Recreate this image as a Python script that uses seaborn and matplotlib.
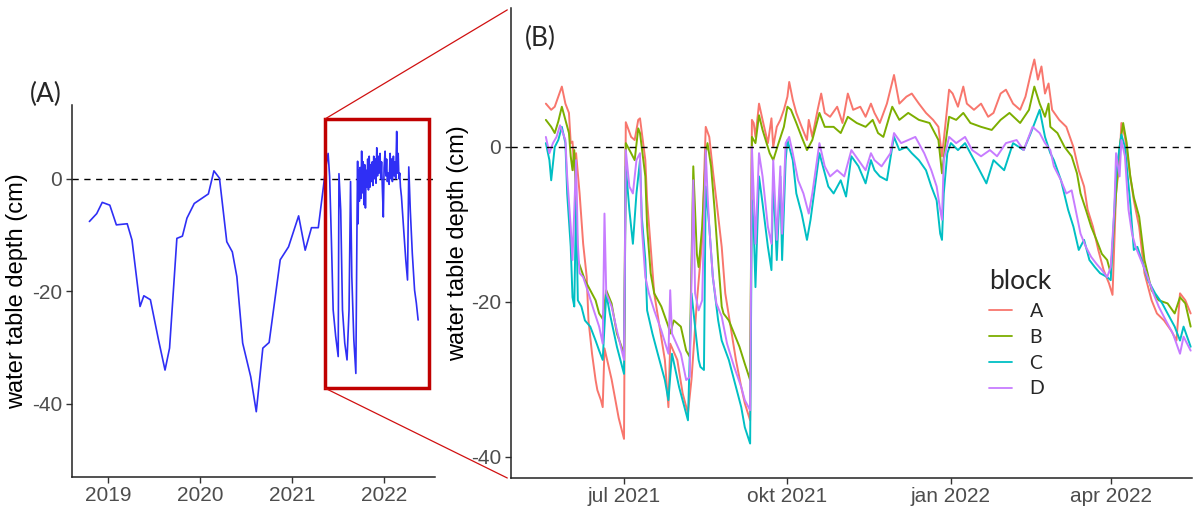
import numpy as np
import pandas as pd
import matplotlib
matplotlib.use("Agg")
import matplotlib.pyplot as plt
import matplotlib.dates as mdates
from matplotlib.patches import Rectangle, ConnectionPatch
import seaborn as sns

# ---------------- data: panel (A) long-term record ----------------
dates_long = ["2018-10-19", "2018-11-17", "2018-12-09", "2019-01-08", "2019-02-03", "2019-03-18",
              "2019-04-06", "2019-05-08", "2019-05-23", "2019-06-18", "2019-07-20", "2019-08-15",
              "2019-09-02", "2019-10-01", "2019-10-23", "2019-11-10", "2019-12-09", "2020-02-03",
              "2020-02-25", "2020-03-18", "2020-04-16", "2020-05-08", "2020-05-26", "2020-06-18",
              "2020-07-20", "2020-08-11", "2020-09-06", "2020-10-01", "2020-11-14", "2020-12-17",
              "2021-01-26", "2021-02-21", "2021-03-18", "2021-04-14", "2021-04-30", "2021-05-14",
              "2021-05-23", "2021-05-29", "2021-06-05", "2021-06-12", "2021-06-22", "2021-07-02",
              "2021-07-05", "2021-07-12", "2021-07-19", "2021-07-28", "2021-08-06", "2021-08-14",
              "2021-08-20", "2021-08-25", "2021-09-02", "2021-09-10", "2021-09-15", "2021-09-17",
              "2021-09-19", "2021-09-21", "2021-09-24", "2021-09-27", "2021-09-30", "2021-10-03",
              "2021-10-06", "2021-10-09", "2021-10-12", "2021-10-15", "2021-10-18", "2021-10-21",
              "2021-10-24", "2021-10-27", "2021-10-30", "2021-11-02", "2021-11-05", "2021-11-08",
              "2021-11-11", "2021-11-14", "2021-11-17", "2021-11-20", "2021-11-23", "2021-11-26",
              "2021-11-29", "2021-12-02", "2021-12-05", "2021-12-08", "2021-12-11", "2021-12-15",
              "2021-12-18", "2021-12-21", "2021-12-24", "2021-12-28", "2021-12-31", "2022-01-04",
              "2022-01-07", "2022-01-10", "2022-01-13", "2022-01-17", "2022-01-20", "2022-01-24",
              "2022-01-27", "2022-01-30", "2022-02-02", "2022-02-06", "2022-02-09", "2022-02-12",
              "2022-02-15", "2022-02-19", "2022-02-22", "2022-02-25", "2022-02-28", "2022-03-03",
              "2022-03-06", "2022-03-10", "2022-03-19", "2022-03-27", "2022-04-03", "2022-04-08",
              "2022-04-14", "2022-04-22", "2022-05-01", "2022-05-08", "2022-05-15"]
depth_long = [-7.6, -6.2, -4.2, -4.7, -8.2, -8.0,
              -10.9, -22.7, -20.8, -21.5, -28.6, -34.0,
              -30.1, -10.6, -10.2, -7.0, -4.4, -2.7,
              1.4, 0.1, -11.2, -13.0, -17.4, -29.2,
              -35.2, -41.4, -30.1, -29.1, -14.4, -12.1,
              -6.6, -12.7, -8.7, -8.7, -3.0, 2.1,
              4.5, 0.4, -10.9, -23.3, -28.0, -31.6,
              0.9, -5.6, -23.3, -29.2, -32.2, -23.3,
              -0.5, -17.4, -28.6, -34.6, -5.6, 3.1,
              -8.0, 1.5, -4.0, 2.0, -3.5, 4.9,
              -2.5, 3.0, -4.6, 2.5, -5.2, 1.5,
              -1.5, 3.5, -2.0, 4.0, -1.5, 2.5,
              -0.5, 3.0, -1.2, 4.0, 0.0, 3.5,
              -0.8, 5.5, 0.5, 4.0, 1.0, 4.5,
              0.0, 3.0, -1.5, -6.8, 2.0, 4.9,
              0.5, 3.5, -0.5, 1.0, -1.0, 4.5,
              0.0, 3.5, -0.5, 4.0, 0.5, 3.0,
              0.0, 8.4, 1.0, 4.5, 0.0, 1.0,
              -1.5, -3.2, -9.2, -14.4, -18.0, 2.1,
              -5.6, -13.3, -19.8, -22.1, -25.1]

# ---------------- data: panel (B) per block ----------------
dates_A = ["2021-05-18", "2021-05-21", "2021-05-23", "2021-05-25", "2021-05-27", "2021-05-29", "2021-05-31",
           "2021-06-01", "2021-06-02", "2021-06-03", "2021-06-04", "2021-06-06", "2021-06-08", "2021-06-10",
           "2021-06-11", "2021-06-13", "2021-06-15", "2021-06-16", "2021-06-18", "2021-06-19", "2021-06-20",
           "2021-06-24", "2021-06-28", "2021-07-01", "2021-07-02", "2021-07-05", "2021-07-07", "2021-07-09",
           "2021-07-10", "2021-07-13", "2021-07-14", "2021-07-16", "2021-07-18", "2021-07-21", "2021-07-24",
           "2021-07-26", "2021-07-27", "2021-07-31", "2021-08-03", "2021-08-06", "2021-08-08", "2021-08-11",
           "2021-08-14", "2021-08-16", "2021-08-18", "2021-08-20", "2021-08-22", "2021-08-25", "2021-08-27",
           "2021-08-30", "2021-09-02", "2021-09-05", "2021-09-07", "2021-09-10", "2021-09-11", "2021-09-12",
           "2021-09-13", "2021-09-15", "2021-09-17", "2021-09-20", "2021-09-22", "2021-09-23", "2021-09-25",
           "2021-09-27", "2021-09-29", "2021-10-01", "2021-10-02", "2021-10-04", "2021-10-06", "2021-10-09",
           "2021-10-12", "2021-10-13", "2021-10-15", "2021-10-18", "2021-10-20", "2021-10-22", "2021-10-25",
           "2021-10-29", "2021-11-01", "2021-11-04", "2021-11-07", "2021-11-11", "2021-11-14", "2021-11-17",
           "2021-11-19", "2021-11-22", "2021-11-26", "2021-11-30", "2021-12-03", "2021-12-07", "2021-12-10",
           "2021-12-14", "2021-12-18", "2021-12-22", "2021-12-25", "2021-12-27", "2021-12-28", "2021-12-31",
           "2022-01-02", "2022-01-05", "2022-01-08", "2022-01-10", "2022-01-14", "2022-01-18", "2022-01-22",
           "2022-01-25", "2022-01-29", "2022-02-01", "2022-02-05", "2022-02-09", "2022-02-12", "2022-02-15",
           "2022-02-17", "2022-02-19", "2022-02-21", "2022-02-23", "2022-02-25", "2022-02-27", "2022-03-03",
           "2022-03-07", "2022-03-11", "2022-03-14", "2022-03-17", "2022-03-19", "2022-03-22", "2022-03-25",
           "2022-03-28", "2022-03-31", "2022-04-02", "2022-04-04", "2022-04-06", "2022-04-07", "2022-04-09",
           "2022-04-12", "2022-04-14", "2022-04-17", "2022-04-20", "2022-04-24", "2022-04-27", "2022-05-01",
           "2022-05-05", "2022-05-08", "2022-05-10", "2022-05-13", "2022-05-16"]
depth_A = [5.6, 4.8, 5.2, 6.5, 7.8, 5.6, 4.4,
           0.5, 0.7, -3.0, -0.8, -6.0, -12.5, -16.8,
           -22.4, -26.7, -30.1, -31.4, -32.7, -33.6, -26.0,
           -30.0, -35.0, -37.7, 3.2, 1.3, 0.9, 3.5,
           3.7, -1.7, -6.9, -12.9, -18.9, -23.2, -27.5,
           -33.6, -25.4, -27.5, -31.8, -34.4, -30.0, -20.0,
           -12.0, 2.6, 1.3, -3.0, -6.9, -12.9, -18.9,
           -23.2, -27.5, -31.0, -33.1, -35.3, 3.5, 3.1,
           1.3, 5.6, 3.5, 0.5, 3.7, 0.0, 2.6,
           3.5, 4.8, 6.5, 8.4, 6.1, 4.4, 2.6,
           0.9, 3.5, 1.3, 4.8, 6.9, 4.4, 3.9,
           5.2, 3.1, 6.9, 4.8, 5.2, 3.9, 5.6,
           4.4, 3.1, 5.6, 9.3, 5.6, 6.5, 6.9,
           5.6, 4.4, 3.5, 2.6, -1.2, 0.9, 7.4,
           6.9, 5.2, 7.8, 5.6, 4.8, 5.6, 3.9,
           4.4, 6.9, 7.4, 5.6, 4.8, 6.5, 9.5,
           11.3, 8.7, 10.4, 6.9, 8.2, 4.8, 3.5,
           2.6, 0.0, -3.0, -5.1, -8.1, -10.3, -13.3,
           -15.9, -17.6, -19.1, -6.0, -1.7, 3.1, 1.3,
           -3.8, -6.9, -10.3, -16.3, -19.8, -21.5, -22.4,
           -23.7, -25.0, -18.9, -19.8, -21.5]

dates_B = ["2021-05-18", "2021-05-21", "2021-05-23", "2021-05-25", "2021-05-27", "2021-05-29", "2021-05-31",
           "2021-06-01", "2021-06-02", "2021-06-03", "2021-06-04", "2021-06-05", "2021-06-07", "2021-06-09",
           "2021-06-12", "2021-06-15", "2021-06-17", "2021-06-19", "2021-06-21", "2021-06-24", "2021-06-27",
           "2021-07-01", "2021-07-02", "2021-07-05", "2021-07-07", "2021-07-09", "2021-07-10", "2021-07-13",
           "2021-07-14", "2021-07-16", "2021-07-18", "2021-07-22", "2021-07-26", "2021-07-27", "2021-07-29",
           "2021-08-02", "2021-08-05", "2021-08-07", "2021-08-09", "2021-08-10", "2021-08-11", "2021-08-12",
           "2021-08-14", "2021-08-16", "2021-08-17", "2021-08-19", "2021-08-21", "2021-08-23", "2021-08-25",
           "2021-08-26", "2021-08-29", "2021-09-01", "2021-09-04", "2021-09-07", "2021-09-10", "2021-09-11",
           "2021-09-13", "2021-09-15", "2021-09-17", "2021-09-21", "2021-09-23", "2021-09-26", "2021-09-29",
           "2021-10-01", "2021-10-03", "2021-10-06", "2021-10-09", "2021-10-12", "2021-10-15", "2021-10-19",
           "2021-10-22", "2021-10-27", "2021-10-31", "2021-11-04", "2021-11-09", "2021-11-14", "2021-11-18",
           "2021-11-21", "2021-11-24", "2021-11-29", "2021-12-03", "2021-12-08", "2021-12-14", "2021-12-20",
           "2021-12-25", "2021-12-27", "2021-12-29", "2021-12-31", "2022-01-04", "2022-01-08", "2022-01-12",
           "2022-01-18", "2022-01-24", "2022-01-29", "2022-02-03", "2022-02-09", "2022-02-14", "2022-02-17",
           "2022-02-20", "2022-02-23", "2022-02-25", "2022-02-26", "2022-03-02", "2022-03-06", "2022-03-10",
           "2022-03-13", "2022-03-15", "2022-03-18", "2022-03-21", "2022-03-24", "2022-03-27", "2022-03-30",
           "2022-04-01", "2022-04-04", "2022-04-06", "2022-04-08", "2022-04-10", "2022-04-12", "2022-04-14",
           "2022-04-17", "2022-04-20", "2022-04-24", "2022-04-28", "2022-05-03", "2022-05-07", "2022-05-10",
           "2022-05-13", "2022-05-16"]
depth_B = [3.5, 2.6, 1.8, 3.3, 5.2, 3.5, 1.8,
           -1.2, -3.0, -0.4, -6.9, -14.6, -15.9, -17.2,
           -18.5, -19.8, -21.5, -22.2, -18.5, -20.2, -24.1,
           -26.7, 0.5, -0.8, -1.7, 2.4, 1.8, -3.8,
           -10.3, -16.3, -18.9, -20.6, -23.2, -24.1, -22.4,
           -23.2, -26.3, -27.1, -2.5, -8.1, -13.8, -15.5,
           -10.3, -0.8, 0.5, -2.5, -8.1, -14.6, -20.6,
           -21.5, -22.4, -24.1, -25.8, -28.0, -30.1, 1.3,
           0.5, 4.1, 2.2, -0.8, -1.7, 0.5, 2.6,
           5.2, 4.8, 3.1, 1.3, -0.4, 0.9, 4.4,
           2.6, 2.6, 1.8, 3.9, 3.1, 2.6, 3.5,
           1.8, 1.3, 5.2, 3.5, 4.4, 3.5, 3.1,
           0.9, -3.4, 0.5, 3.9, 3.5, 4.4, 3.1,
           2.6, 2.2, 3.5, 4.4, 3.1, 4.8, 7.8,
           5.6, 3.9, 5.6, 2.6, 1.8, 0.0, -1.2,
           -3.4, -6.0, -8.1, -10.3, -12.0, -13.8, -14.6,
           -16.3, -6.0, 0.0, 3.1, 0.5, -3.8, -6.5,
           -9.0, -14.6, -18.5, -19.8, -20.2, -21.5, -19.4,
           -20.2, -23.2]

dates_C = ["2021-05-18", "2021-05-20", "2021-05-21", "2021-05-23", "2021-05-25", "2021-05-27", "2021-05-29",
           "2021-05-30", "2021-06-01", "2021-06-02", "2021-06-03", "2021-06-04", "2021-06-05", "2021-06-07",
           "2021-06-09", "2021-06-12", "2021-06-15", "2021-06-17", "2021-06-19", "2021-06-21", "2021-06-23",
           "2021-06-27", "2021-07-01", "2021-07-02", "2021-07-04", "2021-07-06", "2021-07-08", "2021-07-10",
           "2021-07-11", "2021-07-13", "2021-07-14", "2021-07-17", "2021-07-20", "2021-07-24", "2021-07-26",
           "2021-07-28", "2021-08-01", "2021-08-06", "2021-08-08", "2021-08-10", "2021-08-12", "2021-08-13",
           "2021-08-15", "2021-08-16", "2021-08-18", "2021-08-20", "2021-08-23", "2021-08-25", "2021-08-29",
           "2021-09-02", "2021-09-05", "2021-09-07", "2021-09-10", "2021-09-11", "2021-09-12", "2021-09-13",
           "2021-09-15", "2021-09-17", "2021-09-20", "2021-09-22", "2021-09-23", "2021-09-25", "2021-09-27",
           "2021-09-28", "2021-09-30", "2021-10-01", "2021-10-04", "2021-10-06", "2021-10-09", "2021-10-12",
           "2021-10-14", "2021-10-16", "2021-10-19", "2021-10-22", "2021-10-24", "2021-10-27", "2021-10-31",
           "2021-11-03", "2021-11-06", "2021-11-10", "2021-11-14", "2021-11-17", "2021-11-19", "2021-11-22",
           "2021-11-26", "2021-11-29", "2021-11-30", "2021-12-03", "2021-12-07", "2021-12-10", "2021-12-14",
           "2021-12-18", "2021-12-21", "2021-12-24", "2021-12-26", "2021-12-27", "2021-12-28", "2021-12-30",
           "2022-01-01", "2022-01-05", "2022-01-09", "2022-01-12", "2022-01-16", "2022-01-21", "2022-01-25",
           "2022-01-31", "2022-02-05", "2022-02-11", "2022-02-15", "2022-02-20", "2022-02-23", "2022-02-26",
           "2022-02-28", "2022-03-04", "2022-03-08", "2022-03-11", "2022-03-14", "2022-03-17", "2022-03-20",
           "2022-03-23", "2022-03-26", "2022-03-30", "2022-04-01", "2022-04-04", "2022-04-05", "2022-04-07",
           "2022-04-09", "2022-04-12", "2022-04-14", "2022-04-16", "2022-04-19", "2022-04-22", "2022-04-26",
           "2022-04-30", "2022-05-03", "2022-05-07", "2022-05-10", "2022-05-12", "2022-05-16"]
depth_C = [0.5, -1.7, -4.3, 0.0, 0.9, 2.6, 0.5,
           -6.0, -12.9, -19.4, -20.6, -6.9, -19.8, -20.6,
           -22.4, -23.2, -25.0, -26.3, -27.5, -18.9, -21.5,
           -25.8, -29.3, -2.5, -8.1, -12.5, -6.0, -1.7,
           -9.0, -14.6, -21.1, -24.1, -26.7, -30.1, -32.7,
           -26.7, -31.0, -35.3, -18.9, -23.2, -27.5, -28.4,
           -28.8, -5.1, -10.3, -16.8, -22.4, -25.0, -27.5,
           -31.0, -33.6, -36.2, -38.3, -6.9, -10.3, -18.1,
           -3.8, -7.3, -12.9, -15.9, -3.8, -14.6, -3.8,
           -14.6, -1.7, 0.9, -1.7, -6.0, -8.6, -12.0,
           -9.4, -6.0, -0.8, -3.4, -5.1, -6.0, -4.3,
           -6.4, -1.2, -2.5, -4.7, -1.7, -3.0, -3.8,
           -4.3, 0.0, 1.3, -0.4, 0.0, -0.8, -1.7,
           -3.0, -5.1, -6.9, -11.2, -12.0, -6.0, -0.8,
           0.5, -0.4, 0.5, -0.8, -2.5, -4.7, -1.7,
           -3.0, 0.5, -0.4, 1.8, 4.8, 1.3, -0.8,
           -1.7, -4.3, -8.1, -10.3, -13.3, -12.0, -14.6,
           -15.5, -16.3, -16.8, -17.2, -3.8, -1.7, 1.6,
           0.0, -7.3, -13.3, -12.9, -15.0, -17.2, -18.9,
           -20.2, -21.5, -23.2, -25.0, -23.2, -25.8]

dates_D = ["2021-05-18", "2021-05-20", "2021-05-22", "2021-05-24", "2021-05-26", "2021-05-29", "2021-05-30",
           "2021-06-01", "2021-06-02", "2021-06-04", "2021-06-05", "2021-06-06", "2021-06-08", "2021-06-11",
           "2021-06-14", "2021-06-17", "2021-06-19", "2021-06-20", "2021-06-21", "2021-06-24", "2021-06-27",
           "2021-07-01", "2021-07-02", "2021-07-04", "2021-07-06", "2021-07-08", "2021-07-10", "2021-07-11",
           "2021-07-13", "2021-07-15", "2021-07-18", "2021-07-22", "2021-07-26", "2021-07-27", "2021-07-28",
           "2021-08-02", "2021-08-05", "2021-08-07", "2021-08-09", "2021-08-10", "2021-08-12", "2021-08-14",
           "2021-08-16", "2021-08-17", "2021-08-18", "2021-08-20", "2021-08-22", "2021-08-25", "2021-08-28",
           "2021-09-01", "2021-09-05", "2021-09-07", "2021-09-10", "2021-09-11", "2021-09-12", "2021-09-13",
           "2021-09-15", "2021-09-17", "2021-09-20", "2021-09-22", "2021-09-23", "2021-09-25", "2021-09-27",
           "2021-09-28", "2021-09-30", "2021-10-02", "2021-10-04", "2021-10-07", "2021-10-10", "2021-10-13",
           "2021-10-15", "2021-10-19", "2021-10-22", "2021-10-25", "2021-10-29", "2021-11-02", "2021-11-06",
           "2021-11-10", "2021-11-14", "2021-11-17", "2021-11-19", "2021-11-23", "2021-11-28", "2021-11-30",
           "2021-12-04", "2021-12-08", "2021-12-12", "2021-12-17", "2021-12-21", "2021-12-24", "2021-12-26",
           "2021-12-27", "2021-12-28", "2021-12-31", "2022-01-04", "2022-01-09", "2022-01-13", "2022-01-18",
           "2022-01-23", "2022-01-27", "2022-02-01", "2022-02-07", "2022-02-11", "2022-02-16", "2022-02-20",
           "2022-02-23", "2022-02-26", "2022-02-28", "2022-03-04", "2022-03-07", "2022-03-10", "2022-03-13",
           "2022-03-15", "2022-03-18", "2022-03-21", "2022-03-24", "2022-03-27", "2022-03-30", "2022-04-01",
           "2022-04-03", "2022-04-04", "2022-04-06", "2022-04-07", "2022-04-09", "2022-04-11", "2022-04-13",
           "2022-04-15", "2022-04-18", "2022-04-21", "2022-04-25", "2022-04-28", "2022-05-02", "2022-05-06",
           "2022-05-10", "2022-05-12", "2022-05-16"]
depth_D = [1.3, -0.8, 0.5, 1.3, 2.8, 0.9, -3.8,
           -10.3, -14.6, -1.7, -12.5, -16.3, -16.8, -18.9,
           -21.1, -23.2, -25.4, -8.6, -18.9, -20.6, -23.7,
           -27.5, -0.4, -5.1, -6.0, -1.7, -0.8, -10.3,
           -16.8, -18.9, -21.1, -23.7, -26.7, -18.5, -24.1,
           -26.7, -30.1, -29.7, -4.3, -18.9, -21.1, -19.8,
           -0.4, -6.0, -10.3, -16.8, -20.2, -21.9, -25.4,
           -28.4, -31.0, -32.7, -34.0, 0.0, -6.0, -12.5,
           -0.8, -3.8, -10.3, -12.5, -1.7, -12.0, -2.5,
           -11.2, 0.5, 1.3, -0.8, -4.3, -6.0, -8.6,
           -6.0, 0.5, -2.5, -3.8, -3.0, -3.8, -0.4,
           -1.7, -3.0, -0.8, -1.7, -2.5, -0.8, 1.8,
           0.5, 0.9, 1.3, -0.8, -3.0, -5.1, -8.1,
           -9.4, -1.7, 1.3, 0.5, 1.3, -0.4, -1.2,
           -0.4, -1.2, 0.5, 0.9, -0.4, 2.6, 1.8,
           0.5, -0.4, -2.5, -4.3, -6.0, -5.6, -9.0,
           -11.2, -12.9, -14.2, -15.1, -15.9, -16.8, -15.5,
           -8.1, -0.8, -3.8, 0.9, -1.2, -8.1, -11.2,
           -12.9, -14.6, -16.3, -18.9, -20.6, -22.4, -24.1,
           -26.7, -24.5, -26.3]

blocks = ["A", "B", "C", "D"]
block_colors = ["#F8766D", "#7CAE00", "#00BFC4", "#C77CFF"]
year_ticks = ["2019-01-01", "2020-01-01", "2021-01-01", "2022-01-01"]
year_labels = ["2019", "2020", "2021", "2022"]
month_ticks = ["2021-07-01", "2021-10-01", "2022-01-01", "2022-04-01"]
month_labels = ["jul 2021", "okt 2021", "jan 2022", "apr 2022"]
y_ticks = [-40, -20, 0]
ylabel = "water table depth (cm)"

# ---------------- frames ----------------
df_long = pd.DataFrame({"date": pd.to_datetime(dates_long), "depth": depth_long})
parts = []
for b, d, v in zip(blocks, [dates_A, dates_B, dates_C, dates_D], [depth_A, depth_B, depth_C, depth_D]):
    parts.append(pd.DataFrame({"date": pd.to_datetime(d), "depth": v, "block": b}))
df_blocks = pd.concat(parts, ignore_index=True)

# ---------------- style ----------------
sns.set_style("ticks")
plt.rcParams["font.family"] = ["Liberation Sans", "DejaVu Sans"]

W, H = 1194, 513
fig = plt.figure(figsize=(W / 100, H / 100), dpi=100)
axA = fig.add_axes([72 / W, (H - 477) / H, (435 - 72) / W, (477 - 105) / H])
axB = fig.add_axes([510.7 / W, (H - 478) / H, (1191.7 - 510.7) / W, (478 - 8) / H])

tick_col = "#4D4D4D"
spine_col = "#222222"

# ---------------- panel A ----------------
sns.lineplot(data=df_long, x="date", y="depth", color="#2F2FF5", linewidth=1.2,
             estimator=None, ax=axA)
axA.axhline(0, color="black", linestyle=(0, (4.5, 4)), linewidth=1.0, zorder=1)
axA.set_xlim(pd.Timestamp("2018-08-11"), pd.Timestamp("2022-07-21"))
axA.set_ylim(-53, 13.1)
axA.set_xticks(pd.to_datetime(year_ticks))
axA.set_xticklabels(year_labels)

box_x0 = mdates.date2num(pd.Timestamp("2021-05-10"))
box_x1 = mdates.date2num(pd.Timestamp("2022-06-28"))
box_y0, box_y1 = -37.2, 10.6
axA.add_patch(Rectangle((box_x0, box_y0), box_x1 - box_x0, box_y1 - box_y0,
                        fill=False, edgecolor="#C00000", linewidth=2.5, zorder=5))

# ---------------- panel B ----------------
sns.lineplot(data=df_blocks, x="date", y="depth", hue="block", hue_order=blocks,
             palette=dict(zip(blocks, block_colors)), linewidth=1.4, estimator=None, ax=axB)
axB.axhline(0, color="black", linestyle=(0, (4.5, 4)), linewidth=1.0, zorder=5)
axB.set_xlim(pd.Timestamp("2021-04-28 05:00"), pd.Timestamp("2022-05-16 14:00"))
axB.set_ylim(-42.75, 17.95)
axB.set_xticks(pd.to_datetime(month_ticks))
axB.set_xticklabels(month_labels)

for ax in (axA, axB):
    sns.despine(ax=ax)
    ax.set_yticks(y_ticks)
    ax.set_yticklabels([str(t) for t in y_ticks])
    ax.set_xlabel("")
    ax.set_ylabel(ylabel, fontsize=17, color="black", labelpad=3)
    ax.tick_params(axis="both", labelsize=15, labelcolor=tick_col, color="#333333",
                   length=4, width=1.0)
    ax.tick_params(axis="x", pad=2.5)
    ax.tick_params(axis="y", pad=3)
    for s in ("left", "bottom"):
        ax.spines[s].set_color(spine_col)
        ax.spines[s].set_linewidth(1.1)
axB.set_ylabel(ylabel, fontsize=17, color="black", labelpad=1)

# legend
handles, labels = axB.get_legend_handles_labels()
leg = axB.legend(handles, labels, title="block", loc="upper left",
                 bbox_to_anchor=(979 / W, 1 - 259 / H), bbox_transform=fig.transFigure,
                 frameon=False, handlelength=1.2, handletextpad=0.9, labelspacing=0.46,
                 borderpad=0, alignment="left",
                 prop={"family": "Lato", "size": 14},
                 title_fontproperties={"family": "Lato", "size": 19})
for line in leg.get_lines():
    line.set_linewidth(1.3)

# connector lines between box and panel B
con_top = ConnectionPatch(xyA=(box_x0, box_y1), coordsA=axA.transData,
                          xyB=(-0.005, 0.996), coordsB=axB.transAxes,
                          color="#D01010", linewidth=0.9)
con_bot = ConnectionPatch(xyA=(box_x0, box_y0), coordsA=axA.transData,
                          xyB=(-0.005, 0.0), coordsB=axB.transAxes,
                          color="#D01010", linewidth=0.9)
fig.add_artist(con_top)
fig.add_artist(con_bot)

# panel tags
fig.text(30 / W, 1 - 94 / H, "(A)", fontsize=19, family="Lato", va="center", ha="left")
fig.text(525 / W, 1 - 38 / H, "(B)", fontsize=19, family="Lato", va="center", ha="left")

fig.savefig("out.png", dpi=100)
